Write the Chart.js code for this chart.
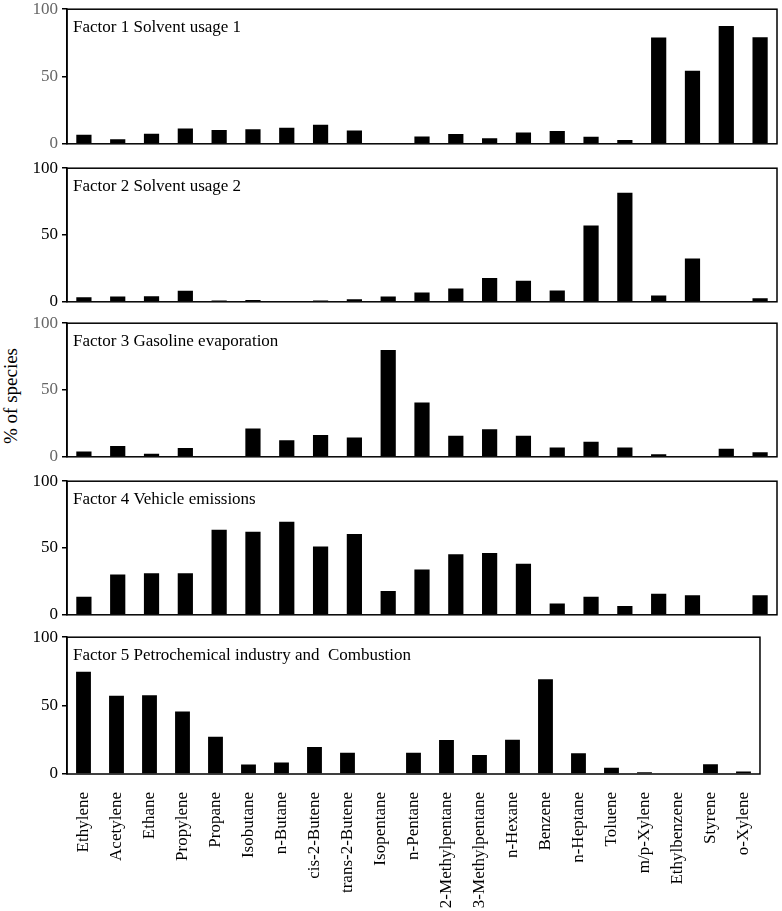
<!DOCTYPE html>
<html>
<head>
<meta charset="utf-8">
<script src="https://cdn.jsdelivr.net/npm/chart.js@4"></script>
<style>
  body { margin: 0; background: #fff; width: 782px; height: 911px; position: relative; overflow: hidden; }
  .panel { position: absolute; left: 0; width: 782px; }
  #ytitle {
    position: absolute; left: 11px; top: 396px;
    transform: translate(-50%, -50%) rotate(-90deg);
    font: 19px "Liberation Serif", "Times New Roman", serif; white-space: nowrap; color: #000;
  }
</style>
</head>
<body>
<div id="ytitle">% of species</div>

<script>
const species = ['Ethylene', 'Acetylene', 'Ethane', 'Propylene', 'Propane', 'Isobutane', 'n-Butane',
  'cis-2-Butene', 'trans-2-Butene', 'Isopentane', 'n-Pentane', '2-Methylpentane', '3-Methylpentane',
  'n-Hexane', 'Benzene', 'n-Heptane', 'Toluene', 'm/p-Xylene', 'Ethylbenzene', 'Styrene', 'o-Xylene']

const factor1 = [6.7, 3.4, 7.4, 11.3, 10.3, 10.8, 12, 14.1, 9.8, 0, 5.5, 7.2, 4.1, 8.4, 9.6, 5.3, 2.9, 78.9, 54.2, 87.5, 79.1]
const factor2 = [3.4, 3.9, 4.1, 8.2, 1, 1.4, 0, 1, 1.9, 3.9, 7, 9.9, 17.8, 15.7, 8.4, 57.1, 81.7, 4.8, 32.5, 0, 2.7]
const factor3 = [3.9, 8, 2.2, 6.5, 0.5, 21.2, 12.3, 16.4, 14.5, 80, 40.7, 15.7, 20.7, 15.7, 7, 11.3, 7, 1.9, 0, 6, 3.4]
const factor4 = [13.5, 30.1, 31.1, 31.1, 63.6, 62.2, 69.6, 51.1, 60.5, 17.8, 34, 45.3, 46.3, 38.3, 8.4, 13.5, 6.5, 15.7, 14.7, 0, 14.7]
const factor5 = [74.8, 57.2, 57.5, 45.7, 27.2, 7, 8.4, 19.7, 15.6, 0, 15.6, 24.8, 13.9, 25, 69.2, 15.1, 4.6, 1.2, 0, 7.2, 1.9]

const factorTitles = ['Factor 1 Solvent usage 1', 'Factor 2 Solvent usage 2', 'Factor 3 Gasoline evaporation',
  'Factor 4 Vehicle emissions', 'Factor 5 Petrochemical industry and  Combustion']
const yTicks = [0, 50, 100]

const factors = [factor1, factor2, factor3, factor4, factor5]
// plot area placement of each panel (page pixels)
const plotTops = [7, 166, 321, 479, 635]
const plotBottoms = [146, 304, 459, 617, 774]
const tickColors = ['#666', '#000', '#666', '#000', '#000']
const serif = '"Liberation Serif", "Times New Roman", serif'

const boxPlugin = {
  id: 'box',
  afterDatasetsDraw(chart, args, opts) {
    const { ctx, chartArea: a } = chart
    ctx.save()
    ctx.strokeStyle = '#000'
    ctx.lineWidth = 1.5
    ctx.strokeRect(a.left, a.top, a.right - a.left, a.bottom - a.top)
    ctx.fillStyle = '#000'
    ctx.font = '17px ' + serif
    ctx.textBaseline = 'alphabetic'
    ctx.fillText(opts.text, a.left + 6, a.top + 23)
    ctx.restore()
  }
}

factors.forEach((values, i) => {
  const isLast = i === factors.length - 1
  const pad = 12
  const top = plotTops[i] - pad
  const height = isLast ? 911 - top : plotBottoms[i] - plotTops[i] + 2 * pad

  const div = document.createElement('div')
  div.className = 'panel'
  div.style.top = top + 'px'
  div.style.height = height + 'px'
  const canvas = document.createElement('canvas')
  canvas.width = 782
  canvas.height = height
  div.appendChild(canvas)
  document.body.appendChild(div)

  new Chart(canvas, {
    type: 'bar',
    data: {
      labels: species,
      datasets: [{
        data: values,
        backgroundColor: '#000',
        borderWidth: 0,
        barPercentage: 0.45,
        categoryPercentage: 1
      }]
    },
    options: {
      responsive: false,
      animation: false,
      layout: { padding: { top: pad, bottom: isLast ? 0 : pad, left: 0, right: 5 } },
      plugins: {
        legend: { display: false },
        tooltip: { enabled: false },
        box: { text: factorTitles[i] }
      },
      scales: {
        x: {
          grid: { display: false, drawTicks: false },
          border: { display: false },
          ticks: {
            display: isLast,
            autoSkip: false,
            minRotation: 90,
            maxRotation: 90,
            padding: 18,
            color: '#000',
            font: { family: serif, size: 17 }
          },
          afterFit: scale => { scale.height = isLast ? 911 - plotBottoms[i] : 0 }
        },
        y: {
          min: 0,
          max: 100,
          afterBuildTicks: scale => { scale.ticks = yTicks.map(v => ({ value: v })) },
          grid: { drawOnChartArea: false, tickLength: 5, color: '#000', lineWidth: 1.5 },
          border: { display: true, color: '#000', width: 1.5 },
          ticks: {
            padding: 4,
            color: tickColors[i],
            font: { family: serif, size: 17 }
          },
          afterFit: scale => { scale.width = 67 }
        }
      }
    },
    plugins: [boxPlugin]
  })
})
</script>
</body>
</html>
